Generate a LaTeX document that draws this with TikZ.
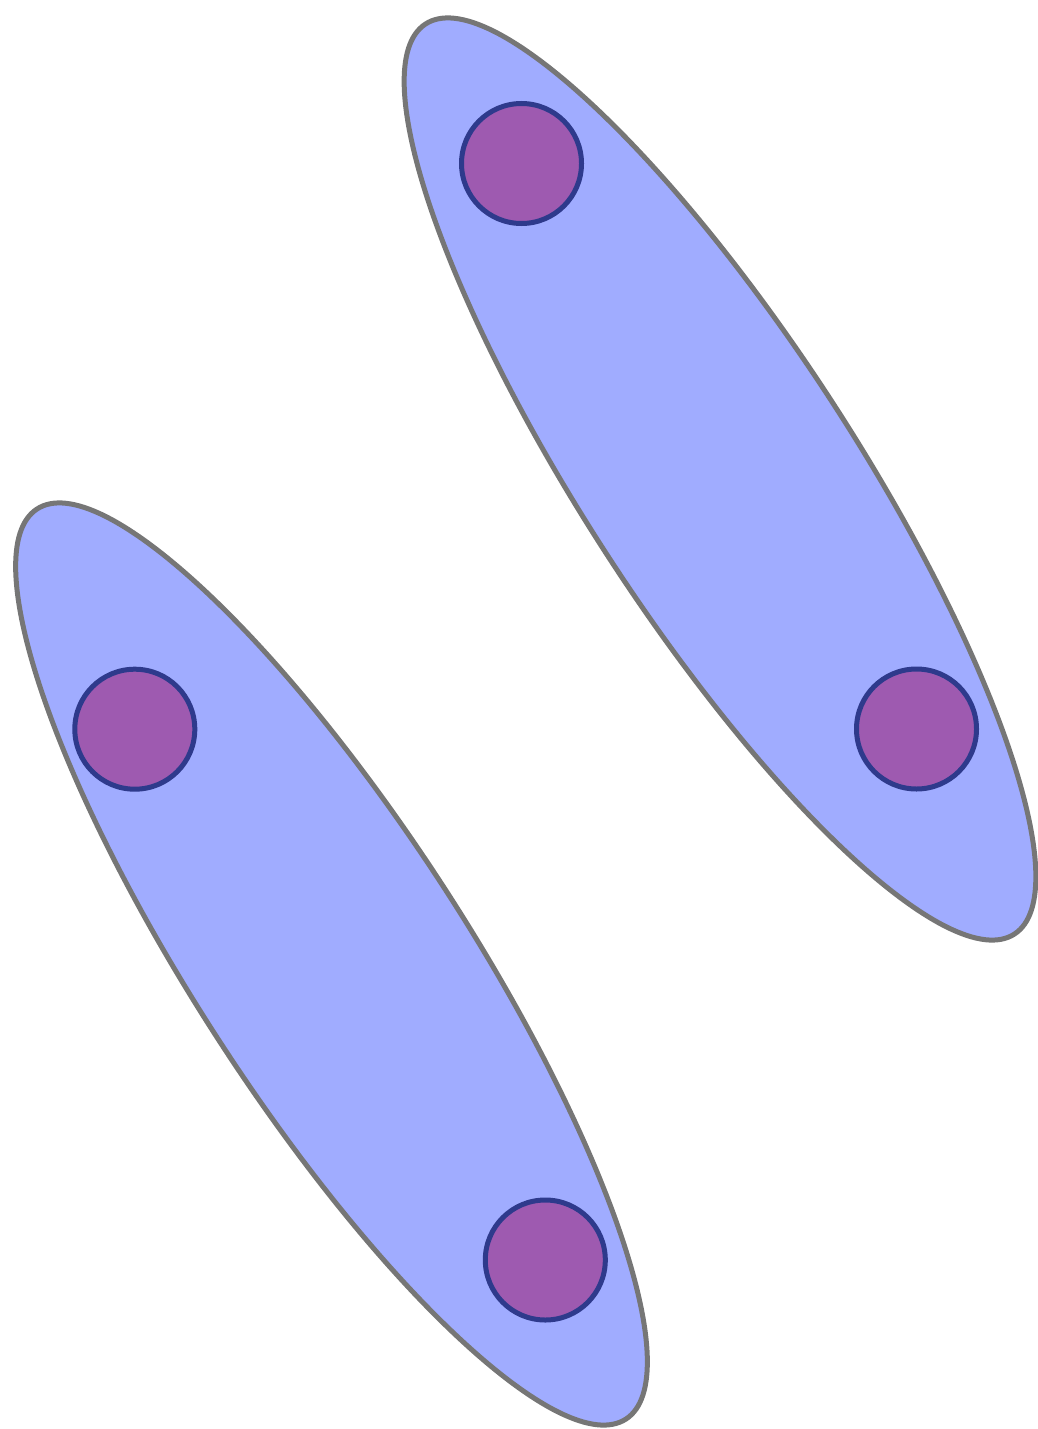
\documentclass[tikz,border=0pt]{standalone}
\usetikzlibrary{shapes.geometric}
\definecolor{ellfill}{RGB}{160,172,255}
\definecolor{ellline}{RGB}{118,118,118}
\definecolor{dotfill}{RGB}{158,90,176}
\definecolor{dotline}{RGB}{46,58,140}
\begin{document}
\begin{tikzpicture}[x=1pt,y=-1pt,
  blob/.style={ellipse, draw=ellline, fill=ellfill, line width=5pt, inner sep=0pt,
    minimum width=1084pt, minimum height=272pt, rotate=-57.1},
  dot/.style={circle, draw=dotline, fill=dotfill, line width=5pt, inner sep=0pt,
    minimum size=120pt}]
\useasboundingbox (0,0) rectangle (1038,1429);
\node[blob] (e1) at (720,479) {};
\node[blob] (e2) at (331.5,964) {};
\node[dot] (c1) at (521.5,163.5) {};
\node[dot] (c2) at (916.5,729) {};
\node[dot] (c3) at (134.8,729.2) {};
\node[dot] (c4) at (545.3,1260) {};
\end{tikzpicture}
\end{document}
